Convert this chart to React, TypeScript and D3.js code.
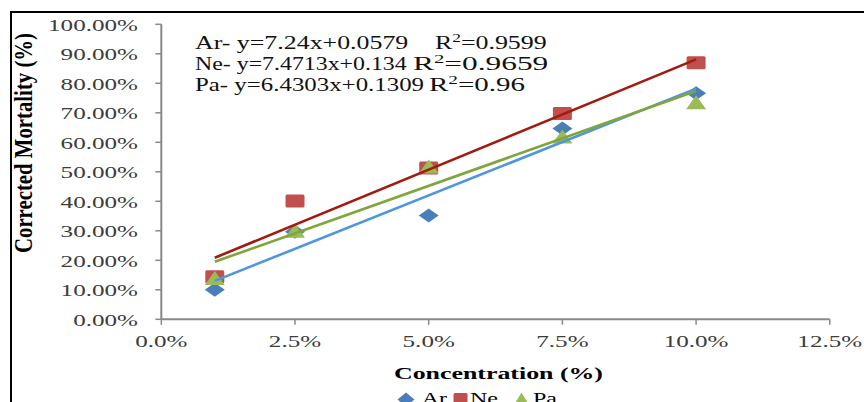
import React from "react";
import * as d3 from "d3";

const concentrations = [0.01, 0.025, 0.05, 0.075, 0.1];
const arValues = [0.1, 0.297, 0.352, 0.647, 0.766];
const neValues = [0.144, 0.401, 0.513, 0.698, 0.87];
const paValues = [0.14, 0.3, 0.518, 0.62, 0.736];
const seriesNames = ["Ar", "Ne", "Pa"];
const slopes = [7.24, 7.4713, 6.4303];
const intercepts = [0.0579, 0.134, 0.1309];
const eqTexts = ["Ar- y=7.24x+0.0579", "Ne- y=7.4713x+0.134", "Pa- y=6.4303x+0.1309"];
const r2Texts = ["0.9599", "0.9659", "0.96"];
const yTicks = [0, 0.1, 0.2, 0.3, 0.4, 0.5, 0.6, 0.7, 0.8, 0.9, 1.0];
const xTicks = [0, 0.025, 0.05, 0.075, 0.1, 0.125];

const markerColors = ["#4A7EBB", "#C0504D", "#9BBB59"];
const lineColors = ["#4F97DD", "#A21B10", "#7FA63C"];
const FONT = "'Liberation Serif', 'Times New Roman', serif";
const SX = 1.57;

function Marker({ kind, cx, cy, w, h, fill }: { kind: number; cx: number; cy: number; w: number; h: number; fill: string }) {
  if (kind === 0) {
    const p = `M${cx},${cy - h / 2}L${cx + w / 2},${cy}L${cx},${cy + h / 2}L${cx - w / 2},${cy}Z`;
    return <path d={p} fill={fill} />;
  }
  if (kind === 1) {
    return <rect x={cx - w / 2} y={cy - h / 2} width={w} height={h} rx={1.5} fill={fill} />;
  }
  const p = `M${cx},${cy - h / 2}L${cx + w / 2},${cy + h / 2}L${cx - w / 2},${cy + h / 2}Z`;
  return <path d={p} fill={fill} />;
}

export default function App() {
  const x = d3.scaleLinear().domain([0, 0.125]).range([161.3, 829.8]);
  const y = d3.scaleLinear().domain([0, 1]).range([319.3, 24.3]);
  const series = [arValues, neValues, paValues];
  const xFmt = d3.format(".1%");
  const yFmt = d3.format(".2%");
  const axisColor = "#898989";
  const textColor = "#3c3c3c";
  const xMin = d3.min(concentrations) as number;
  const xMax = d3.max(concentrations) as number;
  const eqStartX = 195;
  const eqEndX = [408.3, 406.7, 424];
  const r2StartX = [435, 413, 429];
  const r2EndX = [546.7, 548.3, 525];
  const eqBaselines = [48.5, 69.5, 90.5];
  const legendX = [406, 460.5, 521.5];
  const legendTextX = [421.7, 470, 533];

  return (
    <svg width={864} height={402} style={{ position: "absolute", left: 0, top: 0, background: "#fff" }}>
      <rect x={0} y={0} width={864} height={402} fill="#fff" />
      <rect x={11} y={12} width={900} height={500} fill="none" stroke="#000" strokeWidth={2} />

      {/* axes */}
      <line x1={x(0)} x2={x(0)} y1={y(1)} y2={y(0)} stroke={axisColor} strokeWidth={2} />
      <line x1={x(0)} x2={x(0.125)} y1={y(0)} y2={y(0)} stroke={axisColor} strokeWidth={2} />
      {yTicks.map((t) => (
        <g key={"yt" + t}>
          <line x1={x(0) - 6} x2={x(0)} y1={y(t)} y2={y(t)} stroke={axisColor} strokeWidth={1.5} />
          <g transform={`translate(138,${y(t) + 6.3}) scale(${SX},1)`}>
            <text textAnchor="end" fontFamily={FONT} fontSize={16} fill={textColor}>
              {yFmt(t)}
            </text>
          </g>
        </g>
      ))}
      {xTicks.map((t) => (
        <g key={"xt" + t}>
          <line x1={x(t)} x2={x(t)} y1={y(0)} y2={y(0) + 5.5} stroke={axisColor} strokeWidth={1.5} />
          <g transform={`translate(${x(t)},346.8) scale(${SX},1)`}>
            <text textAnchor="middle" fontFamily={FONT} fontSize={16} fill={textColor}>
              {xFmt(t)}
            </text>
          </g>
        </g>
      ))}

      {/* axis titles */}
      <text x={394} y={379} fontFamily={FONT} fontSize={17} fontWeight="bold" fill="#000" textLength={209} lengthAdjust="spacingAndGlyphs">
        Concentration (%)
      </text>
      <g transform="translate(32,143) rotate(-90) scale(1,1.5)">
        <text textAnchor="middle" fontFamily={FONT} fontSize={16.5} fontWeight="bold" fill="#000" textLength={220} lengthAdjust="spacingAndGlyphs">
          Corrected Mortality (%)
        </text>
      </g>

      {/* markers */}
      {series.map((vals, si) =>
        vals.map((v, i) => (
          <Marker key={`m${si}-${i}`} kind={si} cx={x(concentrations[i])} cy={y(v)} w={si === 1 ? 19 : 20} h={si === 1 ? 13 : 14} fill={markerColors[si]} />
        ))
      )}

      {/* trend lines */}
      {slopes.map((s, si) => (
        <line
          key={"tl" + si}
          x1={x(xMin)}
          y1={y(s * xMin + intercepts[si])}
          x2={x(xMax)}
          y2={y(s * xMax + intercepts[si])}
          stroke={lineColors[si]}
          strokeWidth={2.6}
        />
      ))}

      {/* equations */}
      {eqTexts.map((t, i) => (
        <g key={"eq" + i}>
          <text x={eqStartX} y={eqBaselines[i]} fontFamily={FONT} fontSize={18} fill="#111" textLength={eqEndX[i] - eqStartX} lengthAdjust="spacingAndGlyphs">
            {t}
          </text>
          <text x={r2StartX[i]} y={eqBaselines[i]} fontFamily={FONT} fontSize={18} fill="#111" textLength={r2EndX[i] - r2StartX[i]} lengthAdjust="spacingAndGlyphs">
            R<tspan fontSize={12} dy={-7}>2</tspan><tspan dy={7}>={r2Texts[i]}</tspan>
          </text>
        </g>
      ))}

      {/* legend */}
      {seriesNames.map((n, i) => (
        <g key={"lg" + i}>
          <Marker kind={i} cx={legendX[i]} cy={399.5} w={i === 1 ? 14 : 17} h={i === 1 ? 13 : 14} fill={markerColors[i]} />
          <g transform={`translate(${legendTextX[i]},403.5) scale(1.5,1)`}>
            <text fontFamily={FONT} fontSize={16} fill="#000">
              {n}
            </text>
          </g>
        </g>
      ))}
    </svg>
  );
}
